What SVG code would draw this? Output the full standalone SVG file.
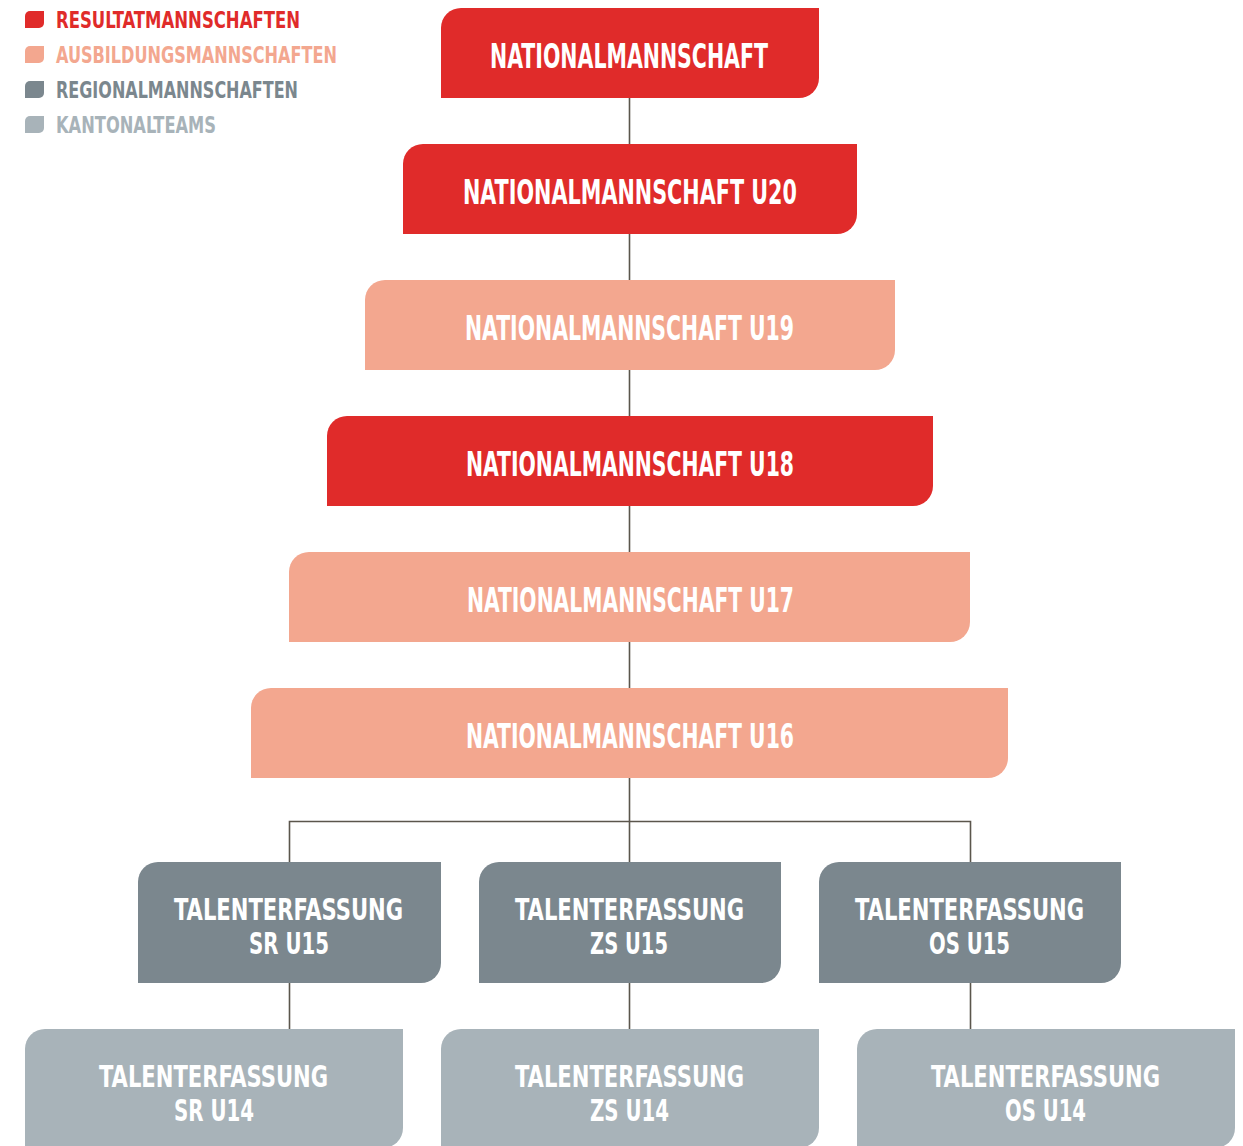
<svg xmlns="http://www.w3.org/2000/svg" width="1243" height="1146" viewBox="0 0 1243 1146">
<style>
.red{fill:#e02b2a}.sal{fill:#f3a78f}.dg{fill:#7b878e}.lg{fill:#a8b3b9}
.t{font-family:"DejaVu Sans Condensed","DejaVu Sans","Liberation Sans",sans-serif;font-weight:bold;font-size:33px;fill:#fff}
.t2{font-family:"DejaVu Sans Condensed","DejaVu Sans","Liberation Sans",sans-serif;font-weight:bold;font-size:30px;fill:#fff}
.lt{font-family:"DejaVu Sans Condensed","DejaVu Sans","Liberation Sans",sans-serif;font-weight:bold;font-size:23px}
.c{stroke:#5b564c;stroke-width:1.6;fill:none}
</style>
<rect width="1243" height="1146" fill="#fff"/>
<g id="legend">
<path class="red" d="M30,11H44V23A5,5 0 0 1 39,28H25V16A5,5 0 0 1 30,11Z"/>
<text class="lt" x="56" y="28" fill="#e02b2a" textLength="244" lengthAdjust="spacingAndGlyphs">RESULTATMANNSCHAFTEN</text>
<path class="sal" d="M30,46H44V58A5,5 0 0 1 39,63H25V51A5,5 0 0 1 30,46Z"/>
<text class="lt" x="56" y="63" fill="#f3a78f" textLength="281" lengthAdjust="spacingAndGlyphs">AUSBILDUNGSMANNSCHAFTEN</text>
<path class="dg" d="M30,81H44V93A5,5 0 0 1 39,98H25V86A5,5 0 0 1 30,81Z"/>
<text class="lt" x="56" y="98" fill="#7b878e" textLength="242" lengthAdjust="spacingAndGlyphs">REGIONALMANNSCHAFTEN</text>
<path class="lg" d="M30,116H44V128A5,5 0 0 1 39,133H25V121A5,5 0 0 1 30,116Z"/>
<text class="lt" x="56" y="133" fill="#a8b3b9" textLength="160" lengthAdjust="spacingAndGlyphs">KANTONALTEAMS</text>
</g>
<g id="connectors">
<path class="c" d="M629.5,98V862"/>
<path class="c" d="M289.5,862V821.5H970.5V862"/>
<path class="c" d="M289.5,983V1029M629.5,983V1029M970.5,983V1029"/>
</g>
<g id="n1"><path class="red" d="M461,8H819V78A20,20 0 0 1 799,98H441V28A20,20 0 0 1 461,8Z"/>
<text class="t" x="490" y="68" textLength="278" lengthAdjust="spacingAndGlyphs">NATIONALMANNSCHAFT</text></g>
<g id="n2"><path class="red" d="M423,144H857V214A20,20 0 0 1 837,234H403V164A20,20 0 0 1 423,144Z"/>
<text class="t" x="463" y="204" textLength="334" lengthAdjust="spacingAndGlyphs">NATIONALMANNSCHAFT U20</text></g>
<g id="n3"><path class="sal" d="M385,280H895V350A20,20 0 0 1 875,370H365V300A20,20 0 0 1 385,280Z"/>
<text class="t" x="465" y="340" textLength="329" lengthAdjust="spacingAndGlyphs">NATIONALMANNSCHAFT U19</text></g>
<g id="n4"><path class="red" d="M347,416H933V486A20,20 0 0 1 913,506H327V436A20,20 0 0 1 347,416Z"/>
<text class="t" x="466" y="476" textLength="328" lengthAdjust="spacingAndGlyphs">NATIONALMANNSCHAFT U18</text></g>
<g id="n5"><path class="sal" d="M309,552H970V622A20,20 0 0 1 950,642H289V572A20,20 0 0 1 309,552Z"/>
<text class="t" x="467" y="612" textLength="327" lengthAdjust="spacingAndGlyphs">NATIONALMANNSCHAFT U17</text></g>
<g id="n6"><path class="sal" d="M271,688H1008V758A20,20 0 0 1 988,778H251V708A20,20 0 0 1 271,688Z"/>
<text class="t" x="466" y="748" textLength="328" lengthAdjust="spacingAndGlyphs">NATIONALMANNSCHAFT U16</text></g>
<g id="n7"><path class="dg" d="M158,862H441V963A20,20 0 0 1 421,983H138V882A20,20 0 0 1 158,862Z"/>
<text class="t2" x="174" y="920" textLength="229" lengthAdjust="spacingAndGlyphs">TALENTERFASSUNG</text>
<text class="t2" x="249" y="954" textLength="80" lengthAdjust="spacingAndGlyphs">SR U15</text></g>
<g id="n8"><path class="dg" d="M499,862H781V963A20,20 0 0 1 761,983H479V882A20,20 0 0 1 499,862Z"/>
<text class="t2" x="515" y="920" textLength="229" lengthAdjust="spacingAndGlyphs">TALENTERFASSUNG</text>
<text class="t2" x="590" y="954" textLength="78" lengthAdjust="spacingAndGlyphs">ZS U15</text></g>
<g id="n9"><path class="dg" d="M839,862H1121V963A20,20 0 0 1 1101,983H819V882A20,20 0 0 1 839,862Z"/>
<text class="t2" x="855" y="920" textLength="229" lengthAdjust="spacingAndGlyphs">TALENTERFASSUNG</text>
<text class="t2" x="929" y="954" textLength="81" lengthAdjust="spacingAndGlyphs">OS U15</text></g>
<g id="n10"><path class="lg" d="M45,1029H403V1128A20,20 0 0 1 383,1148H25V1049A20,20 0 0 1 45,1029Z"/>
<text class="t2" x="99" y="1087" textLength="229" lengthAdjust="spacingAndGlyphs">TALENTERFASSUNG</text>
<text class="t2" x="174" y="1121" textLength="80" lengthAdjust="spacingAndGlyphs">SR U14</text></g>
<g id="n11"><path class="lg" d="M461,1029H819V1128A20,20 0 0 1 799,1148H441V1049A20,20 0 0 1 461,1029Z"/>
<text class="t2" x="515" y="1087" textLength="229" lengthAdjust="spacingAndGlyphs">TALENTERFASSUNG</text>
<text class="t2" x="590" y="1121" textLength="79" lengthAdjust="spacingAndGlyphs">ZS U14</text></g>
<g id="n12"><path class="lg" d="M877,1029H1235V1128A20,20 0 0 1 1215,1148H857V1049A20,20 0 0 1 877,1029Z"/>
<text class="t2" x="931" y="1087" textLength="229" lengthAdjust="spacingAndGlyphs">TALENTERFASSUNG</text>
<text class="t2" x="1005" y="1121" textLength="81" lengthAdjust="spacingAndGlyphs">OS U14</text></g>
</svg>
